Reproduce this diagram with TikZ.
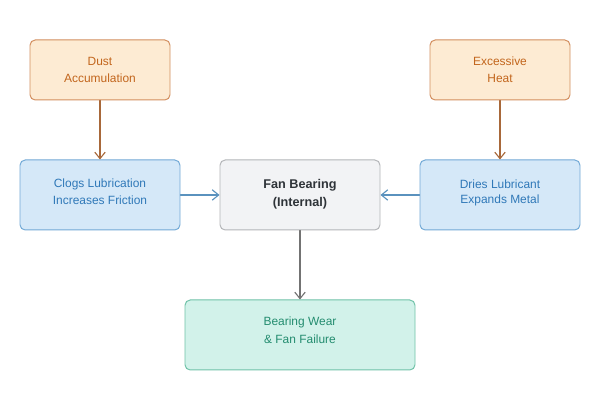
\documentclass[tikz,border=0pt]{standalone}
\usepackage{fontspec}
\setmainfont{Liberation Sans}
\usepackage{xcolor}
\usetikzlibrary{arrows.meta,positioning}
\definecolor{fbOrangeFill}{HTML}{FDEBD3}
\definecolor{fbOrangeLine}{HTML}{D28E5E}
\definecolor{fbOrangeText}{HTML}{C2651C}
\definecolor{fbOrangeArrow}{HTML}{A8683A}
\definecolor{fbBlueFill}{HTML}{D5E8F8}
\definecolor{fbBlueLine}{HTML}{72A9D6}
\definecolor{fbBlueText}{HTML}{2F78B8}
\definecolor{fbBlueArrow}{HTML}{5A92BE}
\definecolor{fbGrayFill}{HTML}{F2F3F5}
\definecolor{fbGrayLine}{HTML}{B3B5B8}
\definecolor{fbGrayText}{HTML}{2E3338}
\definecolor{fbGrayArrow}{HTML}{737373}
\definecolor{fbGreenFill}{HTML}{D2F2EA}
\definecolor{fbGreenLine}{HTML}{6FC2A8}
\definecolor{fbGreenText}{HTML}{238C6F}
\tikzset{
  fb diagram/.style={font=\fontsize{8.5}{12.2}\selectfont,
    line cap=round, line join=round},
  fb box/.style={line width=0.7pt, rounded corners=1.3mm,
    align=center, inner sep=0pt},
  fb cause/.style={fb box, draw=fbOrangeLine, fill=fbOrangeFill,
    text=fbOrangeText, minimum width=3.5cm, minimum height=1.5cm},
  fb effect/.style={fb box, draw=fbBlueLine, fill=fbBlueFill,
    text=fbBlueText, minimum width=4cm, minimum height=1.75cm},
  fb core/.style={fb box, draw=fbGrayLine, fill=fbGrayFill,
    text=fbGrayText, font=\fontsize{9}{12.2}\selectfont\bfseries,
    minimum width=4cm, minimum height=1.75cm},
  fb result/.style={fb box, draw=fbGreenLine, fill=fbGreenFill,
    text=fbGreenText, minimum width=5.75cm, minimum height=1.75cm},
  fb arrow/.style={-{Straight Barb[length=1.6mm,width=2.6mm]}, line width=0.8pt}
}
\begin{document}
\begin{tikzpicture}[fb diagram]
\useasboundingbox[fill=white] (0,0) rectangle (15,10);
\node[fb cause] (dust) at (2.5,8.25) {Dust\\Accumulation};
\node[fb cause] (heat) at (12.5,8.25) {Excessive\\Heat};
\node[fb effect] (clogs) at (2.5,5.125) {\raisebox{5pt}{\shortstack{Clogs Lubrication\\[1.5pt]Increases Friction}}};
\node[fb core] (bearing) at (7.5,5.125) {\raisebox{3pt}{\shortstack{Fan Bearing\\[1.5pt](Internal)}}};
\node[fb effect] (dries) at (12.5,5.125) {\raisebox{5pt}{\shortstack{Dries Lubricant\\[1.5pt]Expands Metal}}};
\node[fb result] (failure) at (7.5,1.625) {\raisebox{7pt}{\shortstack{Bearing Wear\\[1.5pt]\& Fan Failure}}};
\draw[fb arrow, draw=fbOrangeArrow] (dust) -- (clogs);
\draw[fb arrow, draw=fbOrangeArrow] (heat) -- (dries);
\draw[fb arrow, draw=fbBlueArrow] (clogs) -- (bearing);
\draw[fb arrow, draw=fbBlueArrow] (dries) -- (bearing);
\draw[fb arrow, draw=fbGrayArrow] (bearing) -- (failure);
\end{tikzpicture}
\end{document}
